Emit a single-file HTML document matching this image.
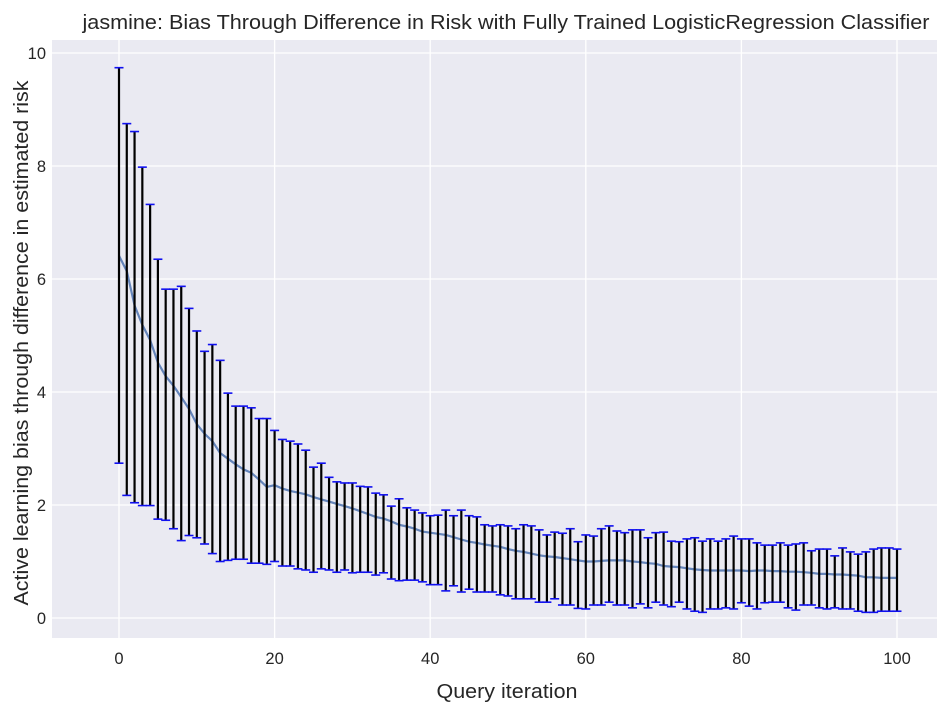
<!DOCTYPE html>
<html><head><meta charset="utf-8"><style>
body{margin:0;background:#fff;font-family:"Liberation Sans","DejaVu Sans",sans-serif;}
svg text{fill:#262626;font-family:"Liberation Sans","DejaVu Sans",sans-serif;}
</style></head><body>
<svg id="chart" width="949" height="716">
<rect x="52" y="40" width="885" height="598" fill="#eaeaf2"/>
<g id="grid"></g><g id="marks"></g><g id="ticks"></g>
<text x="506" y="29" text-anchor="middle" font-size="20" textLength="847" lengthAdjust="spacingAndGlyphs">jasmine: Bias Through Difference in Risk with Fully Trained LogisticRegression Classifier</text>
<text x="507" y="698" text-anchor="middle" font-size="20" textLength="141" lengthAdjust="spacingAndGlyphs">Query iteration</text>
<text transform="translate(28,343) rotate(-90)" text-anchor="middle" font-size="20" textLength="525" lengthAdjust="spacingAndGlyphs">Active learning bias through difference in estimated risk</text>
</svg>
<script>
const iterations = Array.from({length:101},(_,i)=>i);
const meanValues = [6.41,6.14,5.53,5.19,4.92,4.52,4.28,4.11,3.91,3.70,
3.43,3.26,3.13,2.92,2.82,2.72,2.63,2.57,2.45,2.32,
2.35,2.29,2.25,2.22,2.19,2.14,2.10,2.06,2.02,1.98,
1.94,1.89,1.84,1.79,1.76,1.71,1.65,1.62,1.58,1.53,
1.51,1.49,1.47,1.43,1.39,1.35,1.33,1.30,1.28,1.26,
1.22,1.19,1.17,1.14,1.11,1.09,1.08,1.06,1.04,1.02,
1.00,1.00,1.01,1.02,1.02,1.02,1.00,0.99,0.97,0.96,
0.92,0.91,0.90,0.88,0.86,0.85,0.84,0.84,0.84,0.84,
0.84,0.83,0.84,0.84,0.83,0.83,0.82,0.82,0.81,0.80,
0.78,0.78,0.77,0.77,0.76,0.75,0.72,0.72,0.71,0.71,0.71];
const upperValues = [9.74,8.75,8.61,7.98,7.32,6.35,5.82,5.82,5.87,5.48,
5.08,4.72,4.84,4.56,3.98,3.75,3.75,3.72,3.53,3.53,
3.32,3.16,3.13,3.08,2.97,2.67,2.74,2.49,2.41,2.39,
2.39,2.33,2.32,2.21,2.18,1.98,2.11,1.95,1.91,1.86,
1.81,1.82,1.91,1.81,1.91,1.81,1.79,1.65,1.63,1.65,
1.63,1.58,1.65,1.63,1.56,1.47,1.52,1.50,1.58,1.35,
1.47,1.45,1.58,1.63,1.54,1.51,1.56,1.56,1.42,1.51,
1.52,1.36,1.35,1.40,1.42,1.36,1.40,1.36,1.40,1.45,
1.40,1.40,1.33,1.29,1.29,1.33,1.29,1.31,1.33,1.19,
1.22,1.22,1.10,1.24,1.17,1.13,1.17,1.22,1.24,1.24,1.22];
const lowerValues = [2.74,2.17,2.04,1.99,1.99,1.75,1.73,1.58,1.37,1.46,
1.42,1.31,1.14,1.00,1.02,1.04,1.04,0.97,0.97,0.95,
1.00,0.92,0.92,0.87,0.85,0.81,0.87,0.85,0.81,0.85,
0.80,0.81,0.81,0.76,0.80,0.69,0.66,0.67,0.67,0.64,
0.59,0.59,0.48,0.57,0.46,0.51,0.46,0.46,0.46,0.41,
0.39,0.34,0.34,0.34,0.28,0.28,0.34,0.23,0.23,0.17,
0.16,0.23,0.23,0.28,0.23,0.23,0.18,0.25,0.18,0.28,
0.23,0.20,0.28,0.16,0.12,0.10,0.16,0.16,0.18,0.16,
0.27,0.21,0.16,0.27,0.28,0.28,0.18,0.14,0.23,0.23,
0.18,0.16,0.18,0.16,0.16,0.12,0.10,0.10,0.12,0.12,0.12];
const xTicks = [0,20,40,60,80,100];
const yTicks = [0,2,4,6,8,10];

const NS="http://www.w3.org/2000/svg";
const xs = v => 119 + (897-119)*v/100;
const ys = v => 618 - 56.5*v;
function mk(tag, attrs, parent){const e=document.createElementNS(NS,tag);for(const k in attrs)e.setAttribute(k,attrs[k]);parent.appendChild(e);return e;}
const grid=document.getElementById('grid'), marks=document.getElementById('marks'), ticks=document.getElementById('ticks');
xTicks.forEach(t=>{
  const l=mk('line',{x1:xs(t),x2:xs(t),y1:40,y2:638,stroke:'#fff','stroke-width':1.3},grid);
  
  
  const tx=mk('text',{x:xs(t),y:664,'text-anchor':'middle','font-size':16.5},ticks);
  tx.textContent=t;
  
  
});
yTicks.forEach(t=>{
  const l=mk('line',{x1:52,x2:937,y1:ys(t),y2:ys(t),stroke:'#fff','stroke-width':1.3},grid);
  
  
  const tx=mk('text',{x:46,y:ys(t)+6,'text-anchor':'end','font-size':16.5},ticks);
  tx.textContent=t;
  
  
});
const pts=iterations.map((it,i)=>xs(it).toFixed(1)+','+ys(meanValues[i]).toFixed(1)).join(' ');
const line=mk('polyline',{points:pts,fill:'none',stroke:'#4c72b0','stroke-width':2.2,'stroke-opacity':0.85},marks);


iterations.forEach((it,i)=>{
  const x=xs(it);
  const b=mk('line',{x1:x,x2:x,y1:ys(lowerValues[i]),y2:ys(upperValues[i]),stroke:'#000','stroke-width':2.2},marks);
  
  
  [upperValues[i],lowerValues[i]].forEach(v=>{
    const c=mk('line',{x1:x-4.5,x2:x+4.5,y1:ys(v),y2:ys(v),stroke:'#1010f0','stroke-width':1.6},marks);
    
    
  });
});
</script>
</body></html>
